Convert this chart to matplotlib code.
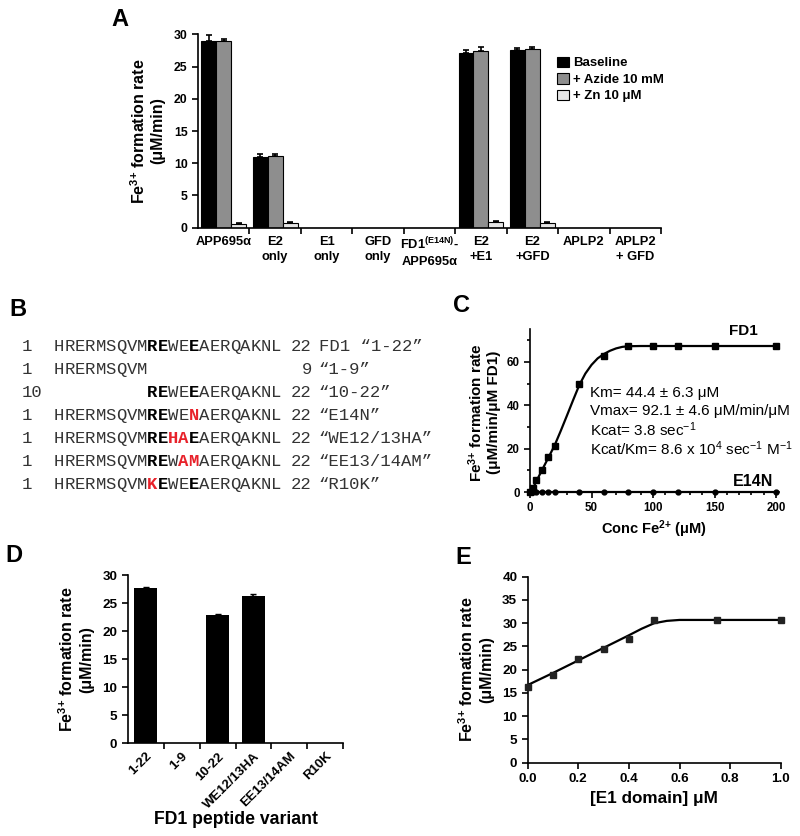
import matplotlib
matplotlib.use('Agg')
import matplotlib.pyplot as plt
from matplotlib.ticker import MultipleLocator, FixedLocator, FormatStrFormatter

plt.rcParams['font.family'] = ['Liberation Sans', 'DejaVu Sans']
plt.rcParams['mathtext.default'] = 'regular'
plt.rcParams['axes.linewidth'] = 1.2

# ---------------- data ----------------
# Panel A
groups_a = ['APP695α', 'E2\nonly', 'E1\nonly', 'GFD\nonly', 'FD1$^{(E14N)}$-\nAPP695α',
            'E2\n+E1', 'E2\n+GFD', 'APLP2', 'APLP2\n+ GFD']
baseline = [29.0, 11.0, 0, 0, 0, 27.1, 27.5, 0, 0]
baseline_err = [0.9, 0.4, 0, 0, 0, 0.5, 0.3, 0, 0]
azide = [29.0, 11.1, 0, 0, 0, 27.4, 27.7, 0, 0]
azide_err = [0.3, 0.4, 0, 0, 0, 0.6, 0.3, 0, 0]
zinc = [0.6, 0.8, 0, 0, 0, 0.9, 0.8, 0, 0]
zinc_err = [0.1, 0.1, 0, 0, 0, 0.1, 0.1, 0, 0]
series_labels = ['Baseline', '+ Azide 10 mM', '+ Zn 10 μM']

# Panel B
row_start = ['1', '1', '10', '1', '1', '1', '1']
row_seq = ['HRERMSQVMREWEEAERQAKNL',
           'HRERMSQVM             ',
           '         REWEEAERQAKNL',
           'HRERMSQVMREWENAERQAKNL',
           'HRERMSQVMREHAEAERQAKNL',
           'HRERMSQVMREWAMAERQAKNL',
           'HRERMSQVMKEWEEAERQAKNL']
row_style = ['nnnnnnnnnbbnnbnnnnnnnn',
             'nnnnnnnnnnnnnnnnnnnnnn',
             'nnnnnnnnnbbnnbnnnnnnnn',
             'nnnnnnnnnbbnnrnnnnnnnn',
             'nnnnnnnnnbbrrbnnnnnnnn',
             'nnnnnnnnnbbnrrnnnnnnnn',
             'nnnnnnnnnrbnnbnnnnnnnn']
row_end = ['22', '9', '22', '22', '22', '22', '22']
row_name = ['FD1 “1-22”', '“1-9”', '“10-22”', '“E14N”', '“WE12/13HA”', '“EE13/14AM”', '“R10K”']

# Panel C
conc = [0, 2.5, 5, 10, 15, 20, 40, 60, 80, 100, 120, 150, 200]
fd1_rate = [0, 1.7, 5.5, 10.2, 16.0, 21.2, 49.7, 62.9, 67.2, 67.2, 67.3, 67.3, 67.3]
e14n_rate = [0, 0, 0, 0, 0, 0, 0, 0, 0, 0, 0, 0, 0]
fit_conc = [0, 2.5, 5, 7.5, 10, 15, 20, 25, 30, 35, 40, 45, 50, 55, 60, 65, 70, 75, 80, 90, 100, 200]
fit_rate = [0, 1.8, 4.8, 7.6, 10.4, 15.9, 21.5, 28.2, 35.2, 42.3, 49.2, 54.6, 58.6, 61.6, 63.6,
            65.1, 66.2, 66.9, 67.2, 67.3, 67.3, 67.3]
kin_text = ['Km= 44.4 ± 6.3 μM',
            'Vmax= 92.1 ± 4.6 μM/min/μM',
            'Kcat= 3.8 sec$^{-1}$',
            'Kcat/Km= 8.6 x 10$^{4}$ sec$^{-1}$ M$^{-1}$']

# Panel D
variants = ['1-22', '1-9', '10-22', 'WE12/13HA', 'EE13/14AM', 'R10K']
variant_rate = [27.6, 0, 22.9, 26.3, 0, 0]
variant_err = [0.2, 0, 0.2, 0.25, 0, 0]

# Panel E
e1_conc = [0, 0.1, 0.2, 0.3, 0.4, 0.5, 0.75, 1.0]
e1_rate = [16.3, 18.8, 22.2, 24.4, 26.6, 30.6, 30.6, 30.6]
fit_e1 = [0, 0.1, 0.2, 0.3, 0.4, 0.45, 0.5, 0.55, 0.6, 0.65, 0.75, 1.0]
fit_e1_rate = [16.7, 19.3, 22.0, 24.7, 27.4, 28.8, 30.0, 30.5, 30.7, 30.7, 30.7, 30.7]

# ---------------- figure ----------------
W, H = 800, 836
fig = plt.figure(figsize=(W / 100, H / 100), dpi=100)


def px_axes(l, t, r, b):
    return fig.add_axes([l / W, 1 - b / H, (r - l) / W, (b - t) / H])


def style_axes(ax):
    for s in ['top', 'right']:
        ax.spines[s].set_visible(False)
    ax.tick_params(direction='out', width=1.2, length=4, colors='black')


ylab = 'Fe$^{3{+}}$ formation rate\n(μM/min)'

# ---- Panel A ----
axA = px_axes(198, 34.3, 661, 227.7)
style_axes(axA)
idx = list(range(len(groups_a)))
bw = 0.29
cols = ['black', '#8e8e8e', '#e6e6e6']
for k, (vals, errs) in enumerate([(baseline, baseline_err), (azide, azide_err), (zinc, zinc_err)]):
    xs = [i + (k - 1) * bw for i in idx]
    axA.bar(xs, vals, width=bw, color=cols[k], edgecolor='black', linewidth=0.8,
            label=series_labels[k], zorder=2)
    ex = [x for x, e in zip(xs, errs) if e > 0]
    ev = [v for v, e in zip(vals, errs) if e > 0]
    ee = [e for e in errs if e > 0]
    axA.errorbar(ex, ev, yerr=[[0] * len(ee), ee], fmt='none', ecolor='black',
                 elinewidth=1.2, capsize=2.5, capthick=1.2, zorder=3)
axA.set_xlim(-0.5, len(groups_a) - 0.5)
axA.set_ylim(0, 30)
axA.yaxis.set_major_locator(MultipleLocator(5))
axA.set_xticks(idx)
axA.set_xticklabels(groups_a, fontsize=9.3, fontweight='bold', linespacing=1.35)
axA.xaxis.set_minor_locator(FixedLocator([i + 0.5 for i in idx]))
axA.tick_params(axis='x', which='major', length=0, pad=6)
axA.tick_params(axis='x', which='minor', length=4, width=1.2)
for t in axA.get_yticklabels():
    t.set_fontweight('bold')
    t.set_fontsize(8.8)
axA.set_ylabel(ylab, fontsize=11.5, fontweight='bold', labelpad=6)
leg = axA.legend(loc='upper left', bbox_to_anchor=(0.775, 0.885), frameon=False,
                 borderpad=0, borderaxespad=0, handlelength=0.9, handleheight=0.85,
                 handletextpad=0.3, labelspacing=0.28,
                 prop={'weight': 'bold', 'size': 9.5})

# ---- Panel C ----
axC = px_axes(530, 329.3, 778.5, 495.3)
style_axes(axC)
axC.set_xlim(0, 202)
axC.set_ylim(-1.5, 75)
axC.spines['bottom'].set_position(('data', 0))
axC.plot(fit_conc, fit_rate, color='black', lw=1.6, zorder=2)
axC.plot(conc, fd1_rate, 's', color='black', ms=4.5, zorder=3, clip_on=False)
axC.plot(conc, e14n_rate, '-o', color='black', lw=1.6, ms=3.5, zorder=3, clip_on=False)
axC.xaxis.set_major_locator(MultipleLocator(50))
axC.xaxis.set_minor_locator(MultipleLocator(10))
axC.yaxis.set_major_locator(FixedLocator([0, 20, 40, 60]))
axC.yaxis.set_minor_locator(FixedLocator([10, 30, 50, 70]))
axC.tick_params(which='minor', length=2.5, width=1.2)
for t in axC.get_xticklabels() + axC.get_yticklabels():
    t.set_fontweight('bold')
    t.set_fontsize(8.3)
axC.set_ylabel('Fe$^{3{+}}$ formation rate\n(μM/min/μM FD1)', fontsize=11, fontweight='bold',
               labelpad=4)
axC.set_xlabel('Conc Fe$^{2{+}}$ (μM)', fontsize=10.5, fontweight='bold', labelpad=3)

# ---- Panel D ----
axD = px_axes(127.7, 575, 343.3, 743.3)
style_axes(axD)
xd = list(range(len(variants)))
axD.bar(xd, variant_rate, width=0.65, color='black', zorder=2)
exd = [x for x, e in zip(xd, variant_err) if e > 0]
evd = [v for v, e in zip(variant_rate, variant_err) if e > 0]
eed = [e for e in variant_err if e > 0]
axD.errorbar(exd, evd, yerr=[[0] * len(eed), eed], fmt='none', ecolor='black',
             elinewidth=1.2, capsize=2.5, zorder=3)
axD.set_xlim(-0.5, len(variants) - 0.5)
axD.set_ylim(0, 30)
axD.yaxis.set_major_locator(MultipleLocator(5))
axD.set_xticks(xd)
axD.set_xticklabels(variants, rotation=45, ha='right', rotation_mode='anchor',
                    fontsize=9.5, fontweight='bold')
axD.xaxis.set_minor_locator(FixedLocator([i + 0.5 for i in xd]))
axD.tick_params(axis='x', which='major', length=0, pad=5)
axD.tick_params(axis='x', which='minor', length=4, width=1.2)
for t in axD.get_yticklabels():
    t.set_fontweight('bold')
    t.set_fontsize(9.7)
axD.set_ylabel(ylab, fontsize=11.5, fontweight='bold', labelpad=6)
axD.set_xlabel('FD1 peptide variant', fontsize=12.7, fontweight='bold', labelpad=0)

# ---- Panel E ----
axE = px_axes(527.7, 576.7, 780.7, 762.7)
style_axes(axE)
axE.plot(fit_e1, fit_e1_rate, color='black', lw=1.6, zorder=2)
axE.plot(e1_conc, e1_rate, 's', color='#222222', ms=5, zorder=3, clip_on=False)
axE.set_xlim(0, 1)
axE.set_ylim(0, 40)
axE.xaxis.set_major_locator(MultipleLocator(0.2))
axE.xaxis.set_major_formatter(FormatStrFormatter('%.1f'))
axE.yaxis.set_major_locator(MultipleLocator(5))
for t in axE.get_xticklabels() + axE.get_yticklabels():
    t.set_fontweight('bold')
    t.set_fontsize(9.7)
axE.set_ylabel(ylab, fontsize=11.5, fontweight='bold', labelpad=6)
axE.set_xlabel('[E1 domain] μM', fontsize=12.3, fontweight='bold', labelpad=4)

# ---- overlay for letters, panel B, annotations ----
ov = fig.add_axes([0, 0, 1, 1])
ov.set_xlim(0, W)
ov.set_ylim(H, 0)
ov.axis('off')
ov.patch.set_alpha(0)

for letter, x, y in [('A', 111, 20), ('B', 9, 310), ('C', 453, 305), ('D', 5, 556), ('E', 455, 557)]:
    ov.text(x, y, letter, fontsize=17, fontweight='bold', ha='left', va='center')

mono = 'Liberation Mono'
cw = 10.35
x_seq = 54
row_y0, row_dy = 346.7, 22.9
for r in range(len(row_seq)):
    y = row_y0 + r * row_dy
    ov.text(22, y, row_start[r], family=mono, fontsize=12.4, color='#333333', ha='left', va='center')
    for i, (ch, st) in enumerate(zip(row_seq[r], row_style[r])):
        if ch == ' ':
            continue
        color = '#333333' if st == 'n' else ('black' if st == 'b' else '#e8212a')
        weight = 'normal' if st == 'n' else 'bold'
        ov.text(x_seq + i * cw, y, ch, family=mono, fontsize=12.4, color=color,
                fontweight=weight, ha='left', va='center')
    ov.text(312, y, row_end[r], family=mono, fontsize=12.4, color='#333333', ha='right', va='center')
    ov.text(319, y, row_name[r], family=mono, fontsize=12.4, color='#333333', ha='left', va='center')

ov.text(758, 331, 'FD1', fontsize=11, fontweight='bold', ha='right', va='center')
ov.text(773, 482, 'E14N', fontsize=11.5, fontweight='bold', ha='right', va='center')
for j, line in enumerate(kin_text):
    ov.text(590, 393 + j * 18.4, line, fontsize=11, ha='left', va='center')

fig.savefig('out.png', dpi=100)
